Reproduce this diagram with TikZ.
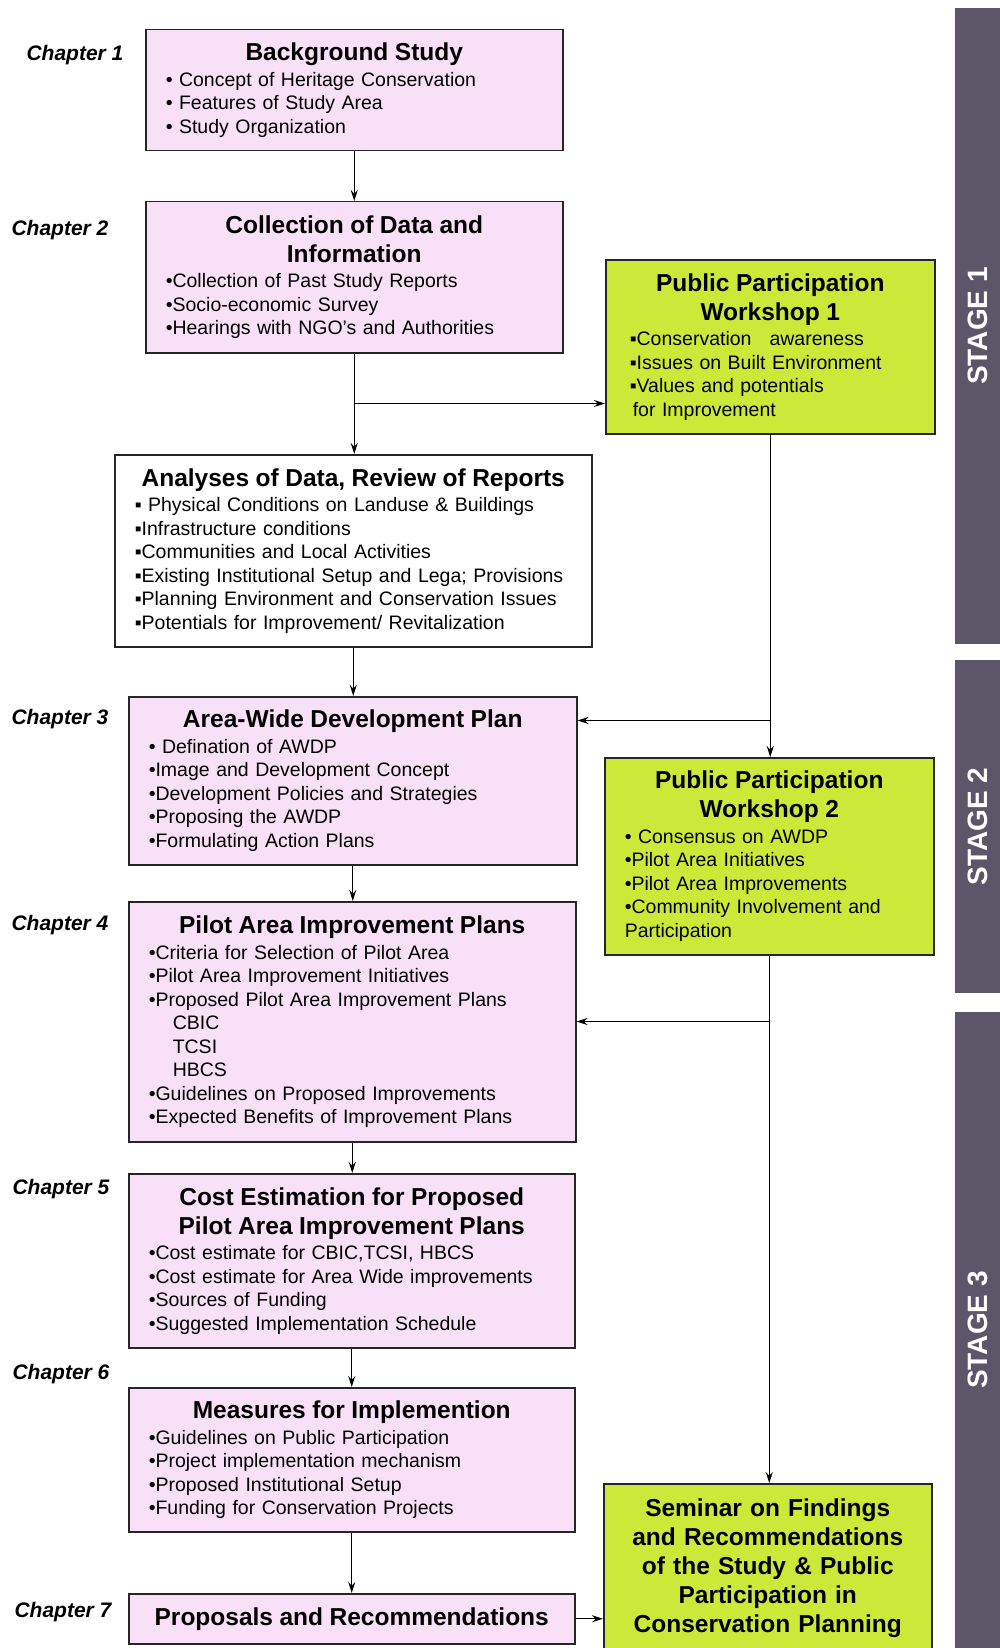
\documentclass[tikz,border=0pt]{standalone}
\usepackage{fontspec}
\setmainfont{Liberation Sans}
\usepackage{tikz}
\usetikzlibrary{calc,arrows.meta}
\definecolor{chpink}{RGB}{248, 224, 246}
\definecolor{ppgreen}{RGB}{204, 233, 58}
\definecolor{stgray}{RGB}{92, 86, 104}

\newcommand{\bodyfont}{\fontsize{19.5}{23.5}\selectfont}
\newcommand{\headfont}{\bfseries\fontsize{24.5}{29}\selectfont}
\newcommand{\hd}[1]{\makebox[\linewidth][c]{\headfont #1}}

\tikzset{
  chbox/.style={draw=black!85, line width=1.5pt, fill=chpink, anchor=north west,
    inner xsep=20pt, inner ysep=0pt, align=left, font=\bodyfont},
  ppbox/.style={chbox, fill=ppgreen},
  stagebar/.style={fill=stgray, text=white, rotate=90, minimum height=45pt,
    inner sep=0pt, font=\bfseries\fontsize{28}{30}\selectfont},
  chlabel/.style={font=\bfseries\itshape\fontsize{21}{24}\selectfont},
  arr/.style={line width=1.2pt, -{Stealth[length=11pt,width=7pt]}}
}

\begin{document}
\begin{tikzpicture}[x=1pt,y=-1pt]
\useasboundingbox[fill=white] (0,0) rectangle (1000,1648);

% Stages
\node[stagebar, minimum width=636pt] (st1) at (977.5,326) {STAGE 1};
\node[stagebar, minimum width=333pt] (st2) at (977.5,826.5) {STAGE 2};
\node[stagebar, minimum width=636pt] (st3) at (977.5,1330) {STAGE 3};

% Chapter labels
\node[chlabel] (c1) at (75,55) {Chapter 1};
\node[chlabel] (c2) at (60,230) {Chapter 2};
\node[chlabel] (c3) at (60,719) {Chapter 3};
\node[chlabel] (c4) at (60,925) {Chapter 4};
\node[chlabel] (c5) at (61,1189) {Chapter 5};
\node[chlabel] (c6) at (61,1374) {Chapter 6};
\node[chlabel] (c7) at (63,1612) {Chapter 7};

% Chapter boxes
\node[chbox, text width=377pt, minimum height=121pt] (bg) at (145,29) {\hd{Background Study}\\[2pt]
• Concept of Heritage Conservation\\
• Features of Study Area\\
• Study Organization};

\node[chbox, text width=377pt, minimum height=151pt] (data) at (145,201) {\hd{Collection of Data and}\\[5.5pt]
\hd{Information}\\[2pt]
•Collection of Past Study Reports\\
•Socio-economic Survey\\
•Hearings with NGO's and Authorities};

\node[chbox, fill=white, text width=437pt, minimum height=192pt] (ana) at (114,454) {\hd{Analyses of Data, Review of Reports}\\[2pt]
▪ Physical Conditions on Landuse \& Buildings\\
▪Infrastructure conditions\\
▪Communities and Local Activities\\
▪Existing Institutional Setup and Lega; Provisions\\
▪Planning Environment and Conservation Issues\\
▪Potentials for Improvement/ Revitalization};

\node[chbox, text width=408pt, minimum height=168pt] (awdp) at (128,696) {\hd{Area-Wide Development Plan}\\[2pt]
• Defination of AWDP\\
•Image and Development Concept\\
•Development Policies and Strategies\\
•Proposing the AWDP\\
•Formulating Action Plans};

\node[chbox, text width=407pt, minimum height=240pt] (pilot) at (128,901) {\hd{Pilot Area Improvement Plans}\\[2pt]
•Criteria for Selection of Pilot Area\\
•Pilot Area Improvement Initiatives\\
•Proposed Pilot Area Improvement Plans\\
\hspace*{24pt}CBIC\\
\hspace*{24pt}TCSI\\
\hspace*{24pt}HBCS\\
•Guidelines on Proposed Improvements\\
•Expected Benefits of Improvement Plans};

\node[chbox, text width=406pt, minimum height=174pt] (cost) at (128,1173) {\hd{Cost Estimation for Proposed}\\[5.5pt]
\hd{Pilot Area Improvement Plans}\\[2pt]
•Cost estimate for CBIC,TCSI, HBCS\\
•Cost estimate for Area Wide improvements\\
•Sources of Funding\\
•Suggested Implementation Schedule};

\node[chbox, text width=406pt, minimum height=144pt] (meas) at (128,1387) {\hd{Measures for Implemention}\\[2pt]
•Guidelines on Public Participation\\
•Project implementation mechanism\\
•Proposed Institutional Setup\\
•Funding for Conservation Projects};

\node[chbox, text width=406pt, minimum height=50pt] (prop) at (128,1593) {\hd{Proposals and Recommendations}};

% Public participation boxes
\node[ppbox, inner xsep=24pt, text width=281pt, minimum height=174pt] (pp1) at (605,259) {\hd{Public Participation}\\[5.5pt]
\hd{Workshop 1}\\[2pt]
▪Conservation\hspace{18pt}awareness\\
▪Issues on Built Environment\\
▪Values and potentials\\
\hspace*{3pt}for Improvement};

\node[ppbox, text width=289pt, minimum height=197pt] (pp2) at (604,757) {\hd{Public Participation}\\[5.5pt]
\hd{Workshop 2}\\[2pt]
• Consensus on AWDP\\
•Pilot Area Initiatives\\
•Pilot Area Improvements\\
•Community Involvement and\\
Participation};

\node[ppbox, align=center, font=\headfont, text width=288pt, minimum height=169pt] (sem) at (603,1483) {Seminar on Findings\\
and Recommendations\\
of the Study \& Public\\
Participation in\\
Conservation Planning};

% Arrows
\coordinate (j0) at ($(data.south)+(0,50)$);
\coordinate (j1) at ($(pp1.south)+(0,286)$);
\coordinate (j2) at ($(pp2.south)+(0,66)$);

\draw[arr] (bg) -- (data);
\draw[arr] (data.south) -- (data.south |- ana.north);
\draw[arr] (j0) -- (j0 -| pp1.west);
\draw[arr] (ana.south) -- (ana.south |- awdp.north);
\draw[arr] (awdp.south) -- (awdp.south |- pilot.north);
\draw[arr] (pilot.south) -- (pilot.south |- cost.north);
\draw[arr] (cost.south) -- (cost.south |- meas.north);
\draw[arr] (meas.south) -- (meas.south |- prop.north);
\draw[arr] (pp1.south) -- (pp1.south |- pp2.north);
\draw[arr] (j1) -- (j1 -| awdp.east);
\draw[arr] (pp2.south) -- (pp2.south |- sem.north);
\draw[arr] (j2) -- (j2 -| pilot.east);
\draw[arr] (prop.east) -- (prop.east -| sem.west);
\end{tikzpicture}
\end{document}
